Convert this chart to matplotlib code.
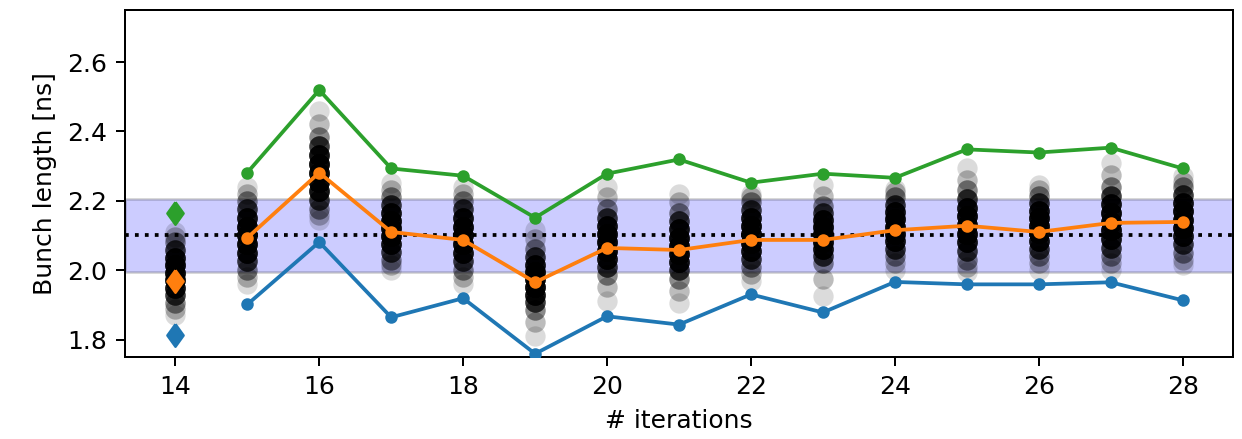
import numpy as np
import matplotlib
matplotlib.use('Agg')
import matplotlib.pyplot as plt

# iterations and summary curves (bunch length in ns)
iterations = [14, 15, 16, 17, 18, 19, 20, 21, 22, 23, 24, 25, 26, 27, 28]
bl_min = [1.814, 1.901, 2.081, 1.864, 1.919, 1.759, 1.867, 1.843, 1.930, 1.878, 1.966, 1.959, 1.959, 1.965, 1.913]
bl_mean = [1.968, 2.093, 2.281, 2.110, 2.087, 1.965, 2.064, 2.058, 2.087, 2.087, 2.115, 2.128, 2.110, 2.136, 2.139]
bl_max = [2.166, 2.281, 2.519, 2.293, 2.272, 2.151, 2.278, 2.319, 2.252, 2.278, 2.266, 2.348, 2.339, 2.353, 2.293]

target = 2.1
tol = 0.05  # relative

# bunch lengths of all bunches per iteration, with how many bunches sit at each value
bunch_counts = [1, 2, 4, 9, 16, 20, 20, 20, 16, 9, 4, 2, 1]
bunch_lengths = [
    [1.870, 1.888, 1.905, 1.927, 1.949, 1.971, 1.993, 2.014, 2.036, 2.058, 2.080, 2.095, 2.110],
    [1.960, 1.980, 2.000, 2.025, 2.050, 2.075, 2.100, 2.125, 2.150, 2.175, 2.200, 2.220, 2.240],
    [2.145, 2.160, 2.175, 2.201, 2.228, 2.254, 2.280, 2.306, 2.333, 2.359, 2.385, 2.420, 2.460],
    [2.000, 2.015, 2.030, 2.053, 2.075, 2.098, 2.120, 2.143, 2.165, 2.188, 2.210, 2.230, 2.250],
    [1.960, 1.980, 2.000, 2.025, 2.050, 2.075, 2.100, 2.125, 2.150, 2.175, 2.200, 2.220, 2.240],
    [1.810, 1.850, 1.885, 1.907, 1.929, 1.951, 1.973, 1.994, 2.016, 2.038, 2.060, 2.090, 2.115],
    [1.910, 1.950, 1.985, 2.009, 2.033, 2.056, 2.080, 2.104, 2.128, 2.151, 2.175, 2.210, 2.240],
    [1.905, 1.940, 1.975, 1.999, 2.023, 2.046, 2.070, 2.094, 2.118, 2.141, 2.165, 2.195, 2.220],
    [1.970, 1.990, 2.010, 2.033, 2.056, 2.079, 2.103, 2.126, 2.149, 2.172, 2.195, 2.210, 2.220],
    [1.925, 1.975, 2.020, 2.041, 2.061, 2.082, 2.103, 2.123, 2.144, 2.164, 2.185, 2.215, 2.245],
    [2.000, 2.020, 2.040, 2.061, 2.083, 2.104, 2.125, 2.146, 2.168, 2.189, 2.210, 2.225, 2.235],
    [1.995, 2.010, 2.030, 2.055, 2.080, 2.105, 2.130, 2.155, 2.180, 2.205, 2.230, 2.260, 2.295],
    [2.000, 2.020, 2.040, 2.062, 2.084, 2.106, 2.128, 2.149, 2.171, 2.193, 2.215, 2.230, 2.245],
    [2.000, 2.020, 2.040, 2.065, 2.090, 2.115, 2.140, 2.165, 2.190, 2.215, 2.240, 2.275, 2.310],
    [2.015, 2.030, 2.050, 2.074, 2.098, 2.121, 2.145, 2.169, 2.193, 2.216, 2.240, 2.255, 2.270],
]

fig = plt.figure(figsize=(6.9, 2.44), dpi=180)
ax = fig.add_axes([0.1006, 0.187, 0.8922, 0.79])

ax.axhspan(target*(1-tol), target*(1+tol), facecolor='b', edgecolor='k', alpha=0.2, zorder=0)
ax.axhline(target, color='k', ls=':', lw=1.5, zorder=1)

for it, bl in zip(iterations, bunch_lengths):
    y = np.repeat(bl, bunch_counts)
    ax.scatter(np.full(len(y), it), y, s=66, c='k', alpha=0.14, linewidths=0, zorder=2)

# first iteration drawn separately with diamonds
diamond = [(0, 1), (0.72, 0), (0, -1), (-0.72, 0), (0, 1)]
ax.plot(iterations[1:], bl_min[1:], '-o', color='C0', lw=1.5, ms=4, zorder=3)
ax.plot(iterations[1:], bl_mean[1:], '-o', color='C1', lw=1.5, ms=4, zorder=3)
ax.plot(iterations[1:], bl_max[1:], '-o', color='C2', lw=1.5, ms=4, zorder=3)
ax.plot(iterations[0], bl_min[0], marker=diamond, color='C0', ms=9, zorder=4)
ax.plot(iterations[0], bl_mean[0], marker=diamond, color='C1', ms=9, zorder=4)
ax.plot(iterations[0], bl_max[0], marker=diamond, color='C2', ms=9, zorder=4)

ax.set_ylim(1.75, 2.75)
ax.set_yticks([1.8, 2.0, 2.2, 2.4, 2.6])
ax.set_xticks(range(14, 29, 2))
ax.set_xlabel('# iterations')
ax.set_ylabel('Bunch length [ns]')

fig.savefig('out.png', dpi=180)
